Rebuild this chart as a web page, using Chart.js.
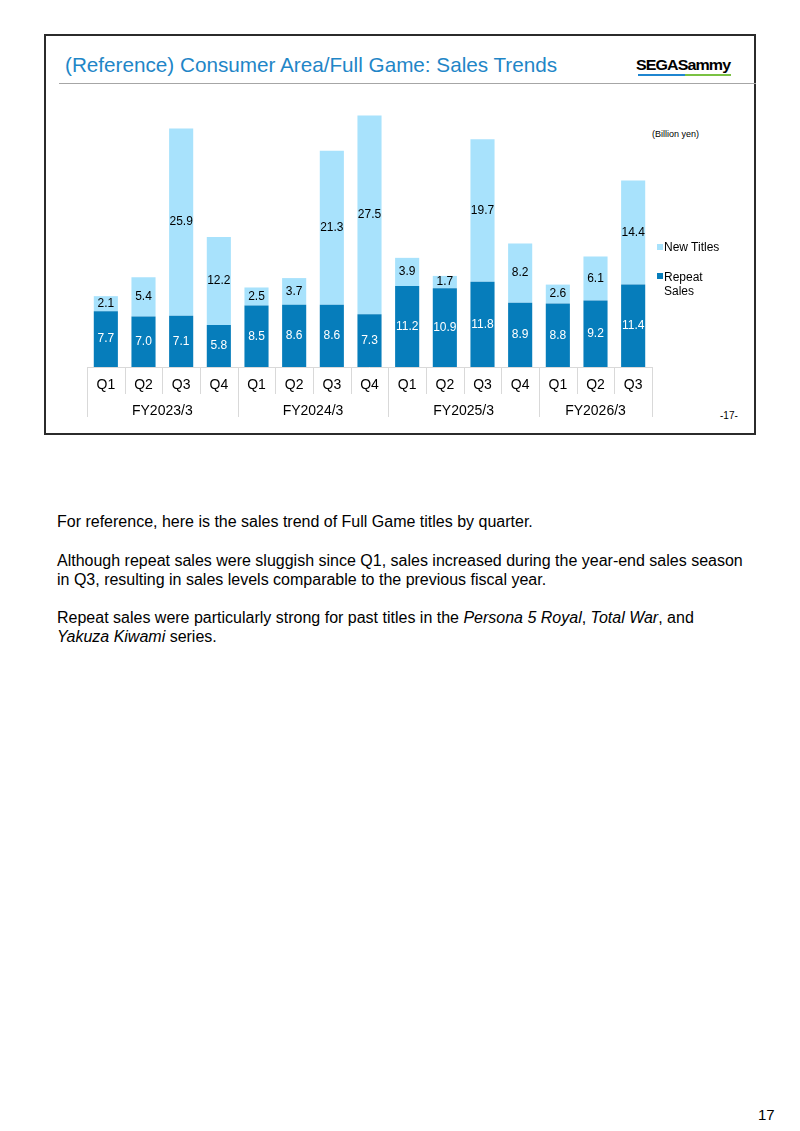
<!DOCTYPE html>
<html>
<head>
<meta charset="utf-8">
<script src="https://cdn.jsdelivr.net/npm/chart.js@4/dist/chart.umd.min.js"></script>
<style>
  html, body { margin: 0; padding: 0; background: #fff; }
  body { width: 800px; height: 1131px; position: relative; overflow: hidden;
         font-family: "Liberation Sans", Arial, sans-serif; color: #000; }
  .abs { position: absolute; white-space: nowrap; }
  #slide { position: absolute; left: 44px; top: 34px; width: 708px; height: 397px;
           border: 2px solid #2b2b2b; }
  #title { left: 65px; top: 51px; font-size: 20.7px; color: #1f86c7; line-height: 28px; }
  #rule { position: absolute; left: 59px; top: 83px; width: 697px; height: 1px; background: #a6a6a6; }
  #logo { left: 636px; top: 56px; font-size: 16px; font-weight: bold; letter-spacing: -0.9px;
          line-height: 18px; transform: scaleY(0.95); }
  #logoBlue { position: absolute; left: 638px; top: 74px; width: 47px; height: 2px; background: #1f86d0; }
  #logoGreen { position: absolute; left: 685px; top: 74px; width: 46px; height: 2px; background: #7ac143; }
  #unit { left: 652px; top: 128px; font-size: 9px; line-height: 12px; }
  #pg17 { left: 720px; top: 410px; font-size: 10px; line-height: 12px; }
  .lg { font-size: 12px; line-height: 14px; }
  .sw { position: absolute; width: 6px; height: 6px; }
  #canvasWrap { position: absolute; left: 0; top: 0; width: 800px; height: 440px; }
  .body { left: 57px; font-size: 16px; line-height: 19px; }
  #pnum { left: 758px; top: 1106px; font-size: 15px; line-height: 18px; }
</style>
</head>
<body>
<div id="slide"></div>
<div id="title" class="abs">(Reference) Consumer Area/Full Game: Sales Trends</div>
<div id="rule"></div>
<div id="logo" class="abs">SEGASammy</div>
<div id="logoBlue"></div>
<div id="logoGreen"></div>
<div id="unit" class="abs">(Billion yen)</div>
<div id="pg17" class="abs">-17-</div>

<div id="canvasWrap"><canvas id="c" width="800" height="440"></canvas></div>

<div class="sw" style="left:657px; top:244px; background:#a8e2fc;"></div>
<div class="abs lg" style="left:664px; top:240px;">New Titles</div>
<div class="sw" style="left:657px; top:273px; background:#067dbb;"></div>
<div class="abs lg" style="left:664px; top:270px;">Repeat<br>Sales</div>

<div class="abs body" style="top:512px;">For reference, here is the sales trend of Full Game titles by quarter.</div>
<div class="abs body" style="top:551px;">Although repeat sales were sluggish since Q1, sales increased during the year-end sales season<br>in Q3, resulting in sales levels comparable to the previous fiscal year.</div>
<div class="abs body" style="top:608px;">Repeat sales were particularly strong for past titles in the <i>Persona 5 Royal</i>, <i>Total War</i>, and<br><i>Yakuza Kiwami</i> series.</div>
<div id="pnum" class="abs">17</div>

<script>
const quarters = ['Q1','Q2','Q3','Q4','Q1','Q2','Q3','Q4','Q1','Q2','Q3','Q4','Q1','Q2','Q3'];
const fiscalYears = ['FY2023/3','FY2024/3','FY2025/3','FY2026/3'];
const quartersPerYear = [4, 4, 4, 3];
const repeatSales = [7.7, 7.0, 7.1, 5.8, 8.5, 8.6, 8.6, 7.3, 11.2, 10.9, 11.8, 8.9, 8.8, 9.2, 11.4];
const newTitles = [2.1, 5.4, 25.9, 12.2, 2.5, 3.7, 21.3, 27.5, 3.9, 1.7, 19.7, 8.2, 2.6, 6.1, 14.4];
const seriesNames = ['Repeat Sales', 'New Titles'];

const FONT = '"Liberation Sans", Arial, sans-serif';

const valueLabels = {
  id: 'valueLabels',
  afterDatasetsDraw(chart) {
    const ctx = chart.ctx;
    ctx.save();
    ctx.font = '12px ' + FONT;
    ctx.textAlign = 'center';
    ctx.textBaseline = 'middle';
    chart.data.datasets.forEach((ds, di) => {
      const meta = chart.getDatasetMeta(di);
      ctx.fillStyle = di === 0 ? '#ffffff' : '#000000';
      meta.data.forEach((el, i) => {
        const y = (el.y + el.base) / 2;
        ctx.fillText(ds.data[i].toFixed(1), el.x, y);
      });
    });
    ctx.restore();
  }
};

const groupedAxis = {
  id: 'groupedAxis',
  afterDraw(chart) {
    const ctx = chart.ctx;
    const xs = chart.scales.x;
    const area = chart.chartArea;
    const base = area.bottom;
    const half = (xs.getPixelForValue(1) - xs.getPixelForValue(0)) / 2;
    const qBottom = base + 27;
    const yBottom = base + 50;
    ctx.save();
    ctx.strokeStyle = '#d9d9d9';
    ctx.lineWidth = 1;
    const left = xs.getPixelForValue(0) - half;
    const right = xs.getPixelForValue(quarters.length - 1) + half;
    ctx.beginPath();
    ctx.moveTo(left, Math.round(base) + 0.5);
    ctx.lineTo(right, Math.round(base) + 0.5);
    ctx.stroke();
    const yearStarts = [0];
    quartersPerYear.forEach((n, k) => yearStarts.push(yearStarts[k] + n));
    for (let i = 0; i <= quarters.length; i++) {
      const bx = (i < quarters.length ? xs.getPixelForValue(i) - half : right);
      const isYear = yearStarts.includes(i);
      ctx.beginPath();
      ctx.moveTo(Math.round(bx) + 0.5, base);
      ctx.lineTo(Math.round(bx) + 0.5, isYear ? yBottom : qBottom);
      ctx.stroke();
    }
    ctx.fillStyle = '#000';
    ctx.textAlign = 'center';
    ctx.textBaseline = 'middle';
    ctx.font = '14px ' + FONT;
    quarters.forEach((q, i) => ctx.fillText(q, xs.getPixelForValue(i), base + 18.5));
    fiscalYears.forEach((fy, k) => {
      const a = xs.getPixelForValue(yearStarts[k]) - half;
      const b = xs.getPixelForValue(yearStarts[k + 1] - 1) + half;
      ctx.fillText(fy, (a + b) / 2, base + 44.5);
    });
    ctx.restore();
  }
};

new Chart(document.getElementById('c'), {
  type: 'bar',
  data: {
    labels: quarters.map((q, i) => i + ':' + q),
    datasets: [
      { label: seriesNames[0], data: repeatSales, backgroundColor: '#067dbb', borderWidth: 0 },
      { label: seriesNames[1], data: newTitles, backgroundColor: '#a8e2fc', borderWidth: 0 }
    ]
  },
  options: {
    responsive: false,
    maintainAspectRatio: false,
    devicePixelRatio: 1,
    animation: false,
    layout: { padding: { left: 87, right: 148, top: 114, bottom: 73 } },
    datasets: { bar: { categoryPercentage: 1.0, barPercentage: 0.64 } },
    scales: {
      x: { stacked: true, display: false },
      y: { stacked: true, display: false, min: 0, max: 35 }
    },
    plugins: { legend: { display: false }, tooltip: { enabled: false } }
  },
  plugins: [valueLabels, groupedAxis]
});
</script>
</body>
</html>
